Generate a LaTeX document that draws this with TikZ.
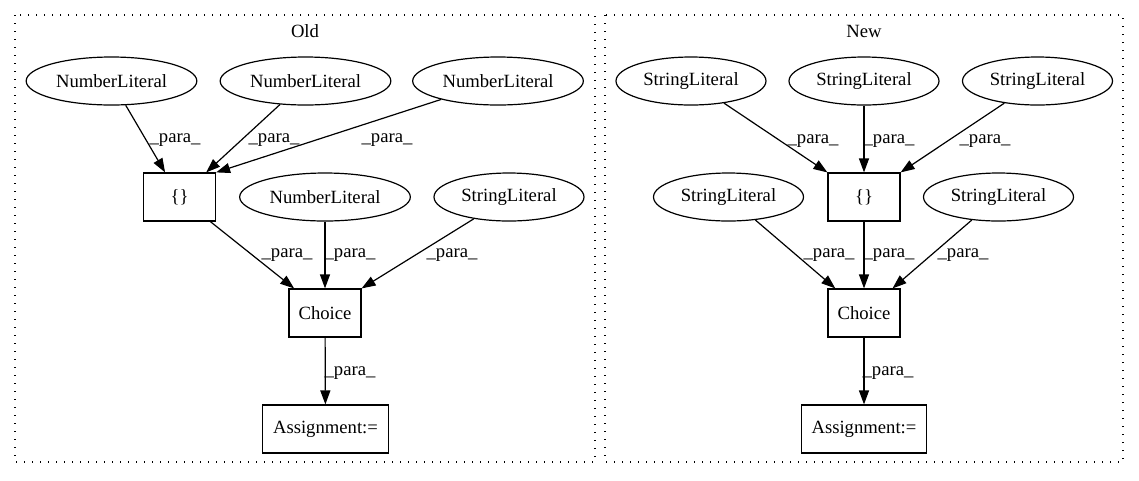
\documentclass[tikz,border=0pt]{standalone}
\usepackage{fontspec}
\setmainfont{Liberation Serif}
\usetikzlibrary{shapes.geometric,arrows.meta}

\tikzset{
    lit/.style={ellipse, draw, inner sep=0pt, minimum height=36pt},
    numlit/.style={lit, minimum width=128pt},
    strlit/.style={lit, minimum width=112.5pt},
    op/.style={rectangle, draw, minimum width=54pt, minimum height=36pt},
    edge/.style={-{Triangle[length=10.5pt,width=7.5pt]}},
    lbl/.style={inner sep=0pt},
    cluster/.style={line width=1pt, dash pattern=on 1pt off 5pt},
}

\begin{document}
\begin{tikzpicture}[x=0.75pt, y=-0.75pt, line width=0.9pt, font=\fontsize{14pt}{16pt}\selectfont]
    \useasboundingbox (0,0) rectangle (1139,480);
    % Clusters
    \draw[cluster] (15,15) rectangle (595,462);
    \draw[cluster] (605,15) rectangle (1123,462);
    \node (oldtitle) at (305,31) {Old};
    \node (newtitle) at (864,31) {New};
    % Old
    \node[numlit] (onl1) at (111.5,81) {NumberLiteral};
    \node[numlit] (onl2) at (305.5,81) {NumberLiteral};
    \node[numlit] (onl3) at (498,81) {NumberLiteral};
    \node[op] (obrace) at (179.5,197) {\{\}};
    \node[numlit] (onl4) at (325,197) {NumberLiteral};
    \node[strlit] (osl) at (509,197) {StringLiteral};
    \node[op] (ochoice) at (325,313) {Choice};
    \node[op, minimum width=94pt] (oassign) at (325.5,429) {Assignment:=};
    % New
    \node[strlit] (nsl1) at (691,81) {StringLiteral};
    \node[strlit] (nsl2) at (864,81) {StringLiteral};
    \node[strlit] (nsl3) at (1037.5,81) {StringLiteral};
    \node[op] (nbrace) at (864,197) {\{\}};
    \node[strlit] (nsl4) at (728.5,197) {StringLiteral};
    \node[strlit] (nsl5) at (998.5,197) {StringLiteral};
    \node[op] (nchoice) at (864,313) {Choice};
    \node[op, minimum width=94pt] (nassign) at (864,429) {Assignment:=};
    % Edges
    \foreach \a/\b/\lx/\ly in {onl1/obrace/175/140, onl2/obrace/274/140,
        onl3/obrace.north east/387/140, obrace/ochoice/287/255,
        onl4/ochoice/350/255, osl/ochoice.north east/452/255,
        ochoice/oassign/350/373,
        nsl1/nbrace.north west/813/141, nsl2/nbrace/889/141,
        nsl3/nbrace.north east/985/141, nsl4/nchoice/829/255,
        nbrace/nchoice/889/255, nsl5/nchoice/963/255,
        nchoice/nassign/888/373} {%
        \draw[edge] (\a) -- (\b) node[lbl, at={(\lx,\ly)}] (p\a) {\_para\_};
    }
\end{tikzpicture}
\end{document}
